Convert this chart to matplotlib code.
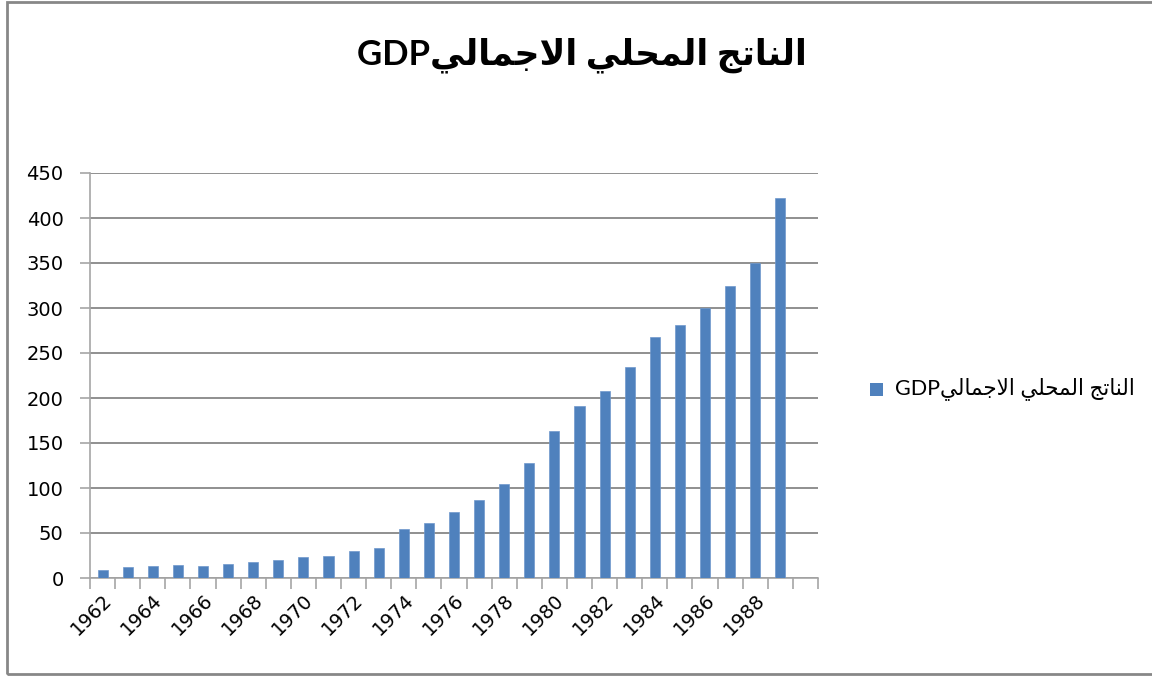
import numpy as np
import matplotlib
matplotlib.use("Agg")
import matplotlib.pyplot as plt
from matplotlib.patches import Rectangle

# GDP by year
years = list(range(1962, 1990))
gdp = [9.3, 12.7, 13.0, 14.1, 13.7, 15.6, 18.2, 20.4, 23.3, 24.1,
       29.6, 33.5, 54.2, 60.9, 73.3, 86.7, 104.8, 127.4, 163.0, 190.7,
       207.8, 234.0, 267.8, 280.6, 299.7, 323.9, 349.8, 422.5]
n_slots = len(years) + 1          # one empty slot after the last year
y_ticks = list(range(0, 451, 50))
label_text = "الناتج المحلي الاجماليGDP"

# --- minimal Arabic shaping (contextual forms + lam-alef) and RTL ordering ---
FORMS = {
    'ا': (0xFE8D, 0xFE8E, None, None),
    'ل': (0xFEDD, 0xFEDE, 0xFEDF, 0xFEE0),
    'ن': (0xFEE5, 0xFEE6, 0xFEE7, 0xFEE8),
    'ت': (0xFE95, 0xFE96, 0xFE97, 0xFE98),
    'ج': (0xFE9D, 0xFE9E, 0xFE9F, 0xFEA0),
    'م': (0xFEE1, 0xFEE2, 0xFEE3, 0xFEE4),
    'ح': (0xFEA1, 0xFEA2, 0xFEA3, 0xFEA4),
    'ي': (0xFEF1, 0xFEF2, 0xFEF3, 0xFEF4),
    'LA': (0xFEFB, 0xFEFC, None, None),
}
DUAL = {'ل', 'ن', 'ت', 'ج', 'م', 'ح', 'ي'}
RIGHT = {'ا', 'LA'}


def shape_arabic(s):
    chars = []
    i = 0
    while i < len(s):
        if s[i] == 'ل' and i + 1 < len(s) and s[i + 1] == 'ا':
            chars.append('LA')
            i += 2
        else:
            chars.append(s[i])
            i += 1
    out = []
    for k, c in enumerate(chars):
        if c not in FORMS:
            out.append(c)
            continue
        prev = chars[k - 1] if k > 0 else None
        nxt = chars[k + 1] if k + 1 < len(chars) else None
        jp = prev in DUAL
        jn = c in DUAL and (nxt in DUAL or nxt in RIGHT)
        iso, fin, ini, med = FORMS[c]
        if jp and jn:
            code = med
        elif jp:
            code = fin
        elif jn:
            code = ini
        else:
            code = iso
        out.append(chr(code))
    return out


def visual(s):
    # split the trailing Latin run from the Arabic run
    j = len(s)
    while j > 0 and s[j - 1].isascii() and s[j - 1] != ' ':
        j -= 1
    arabic, latin = s[:j], s[j:]
    return latin + ''.join(reversed(shape_arabic(arabic)))


shown = visual(label_text)

fam = ['Lato', 'DejaVu Sans']
plt.rcParams['font.family'] = fam
tick_fam = ['DejaVu Sans']

W, H = 1152, 676
fig = plt.figure(figsize=(W / 100, H / 100), dpi=100)
fig.patch.set_facecolor('white')

# chart frame
fig.patches.append(Rectangle((7 / W, 2 / H), 1.2, (674 - 2) / H, transform=fig.transFigure,
                             fill=False, edgecolor='#878787', linewidth=2))

ax = fig.add_axes([90 / W, (H - 578) / H, (818 - 90) / W, (578 - 173) / H])
x = np.arange(len(years))
ax.bar(x, gdp, width=0.4, color='#4F81BD', edgecolor='#6f98cc', linewidth=0.5, zorder=3)

ax.set_xlim(-0.5, n_slots - 0.5)
ax.set_ylim(0, 450)
ax.set_yticks(y_ticks)
ax.set_yticklabels([str(v) for v in y_ticks], fontsize=14, family=tick_fam)
ax.yaxis.grid(True, color='#878787', linewidth=1.3, zorder=0)
ax.tick_params(axis='y', length=7, width=1.2, color='#a6a6a6', pad=12)

# boundary ticks between categories, labels every other year
ax.set_xticks(np.arange(-0.5, n_slots, 1.0))
ax.set_xticklabels([])
ax.tick_params(axis='x', which='major', length=8, width=1.2, color='#a6a6a6')
ax.set_xticks(x[::2], minor=True)
ax.set_xticklabels([str(y) for y in years[::2]], minor=True, rotation=45,
                   ha='right', va='top', rotation_mode='anchor', fontsize=14,
                   family=tick_fam)
ax.tick_params(axis='x', which='minor', length=0, pad=9)

for side in ('top', 'right'):
    ax.spines[side].set_visible(False)
ax.spines['left'].set_color('#a6a6a6')
ax.spines['left'].set_linewidth(1.2)
ax.spines['bottom'].set_color('#a6a6a6')
ax.spines['bottom'].set_linewidth(1.2)

# title
fig.text(582 / W, 1 - 55 / H, shown, ha='center', va='center', fontsize=25,
         fontweight='bold', family=fam)

# legend
fig.patches.append(Rectangle((870 / W, 1 - 396 / H), 13 / W, 13 / H, transform=fig.transFigure,
                             facecolor='#4F81BD', edgecolor='none'))
fig.text(895 / W, 1 - 389 / H, shown, ha='left', va='center', fontsize=15.5, family=fam)

fig.savefig('out.png', dpi=100)
